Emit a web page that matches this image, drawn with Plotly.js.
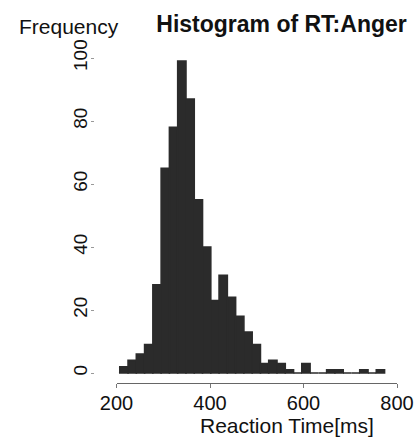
<!DOCTYPE html>
<html>
<head>
<meta charset="utf-8">
<script src="https://cdn.plot.ly/plotly-3.0.1.min.js"></script>
<style>
html,body{margin:0;padding:0;background:#fff;}
#chart{width:416px;height:439px;}
</style>
</head>
<body>
<div id="chart"></div>
<script>
// Histogram bins (ms) and counts
const binStart = 207;      // left edge of first bin (ms)
const binWidth = 17.7;     // bin width (ms)
const counts = [2, 4, 6, 9, 28, 65, 78, 99, 87, 55, 40, 23, 31, 24, 18, 13, 9,
                3, 4, 3, 1, 0, 3, 0, 0, 1, 1, 0, 0, 1, 0, 1];
const xTickVals = [200, 400, 600, 800];
const yTickVals = [0, 20, 40, 60, 80, 100];
const titleText = "Histogram of RT:Anger";
const xLabel = "Reaction Time[ms]";
const yLabel = "Frequency";

const centers = counts.map((c, i) => binStart + binWidth * (i + 0.5));

const W = 416, H = 439;
const mL = 94, mR = 19, mT = 58, mB = 56;
const plotW = W - mL - mR, plotH = H - mT - mB;
const font = "Liberation Sans, Arial, Helvetica, sans-serif";

const trace = {
  type: "bar",
  x: centers,
  y: counts,
  width: binWidth,
  marker: {color: "#2b2b2b", line: {color: "#2b2b2b", width: 1.6}},
  hoverinfo: "x+y"
};

const layout = {
  width: W, height: H,
  margin: {l: mL, r: mR, t: mT, b: mB, pad: 0},
  paper_bgcolor: "#ffffff",
  plot_bgcolor: "#ffffff",
  showlegend: false,
  bargap: 0,
  font: {family: font, color: "#111111"},
  title: {
    text: "<b>" + titleText + "</b>",
    font: {family: font, size: 23, color: "#111111"},
    xref: "container", yref: "container",
    x: 281.5 / W, xanchor: "center",
    y: 1 - 24 / H, yanchor: "middle"
  },
  xaxis: {
    domain: [(116.5 - mL) / plotW, 1],
    range: [200, 800],
    tickvals: xTickVals,
    ticktext: xTickVals.map(String),
    ticks: "outside", ticklen: 4, tickcolor: "#777777", tickwidth: 1,
    showline: true, linecolor: "#666666", linewidth: 1,
    showgrid: false, zeroline: false,
    tickfont: {family: font, size: 20, color: "#111111"},
    ticklabelstandoff: -2,
    title: {text: ""}
  },
  yaxis: {
    anchor: "free", position: 0,
    range: [-3.17, 100],
    tickvals: yTickVals,
    ticktext: yTickVals.map(String),
    tickangle: -90,
    ticks: "outside", ticklen: 3, tickcolor: "#999999", tickwidth: 1,
    showline: false, showgrid: false, zeroline: false,
    tickfont: {family: font, size: 19, color: "#111111"},
    ticklabelstandoff: -4,
    title: {text: ""}
  },
  annotations: [
    {
      text: yLabel, showarrow: false,
      xref: "paper", yref: "paper",
      x: (69 - mL) / plotW, xanchor: "center",
      y: (H - mB - 26) / plotH, yanchor: "middle",
      font: {family: font, size: 21, color: "#111111"}
    },
    {
      text: xLabel, showarrow: false,
      xref: "paper", yref: "paper",
      x: (287 - mL) / plotW, xanchor: "center",
      y: (H - mB - 425) / plotH, yanchor: "middle",
      font: {family: font, size: 21, color: "#111111"}
    }
  ]
};

Plotly.newPlot("chart", [trace], layout, {displayModeBar: false, staticPlot: true});
</script>
</body>
</html>
